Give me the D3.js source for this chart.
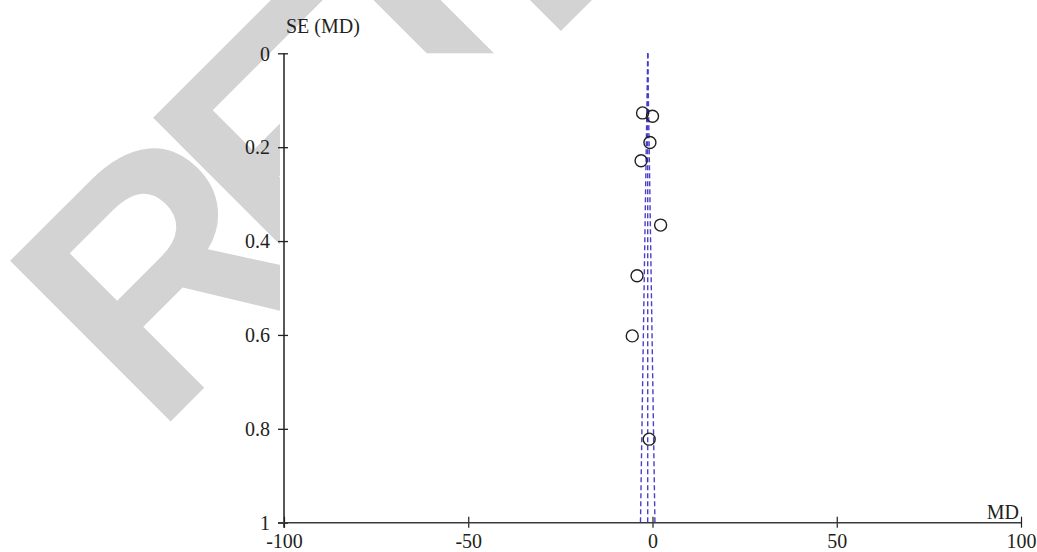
<!DOCTYPE html>
<html>
<head>
<meta charset="utf-8">
<script src="https://cdn.jsdelivr.net/npm/d3@7"></script>
<style>
  body { margin: 0; background: #fff; }
  svg { display: block; }
  .axis-text { font-family: "Liberation Serif", "DejaVu Serif", serif; font-size: 20px; fill: #231f20; }
</style>
</head>
<body>
<div id="chart"></div>
<script>
// study estimates (mean difference) and their standard errors
const mdValues = [-2.7, 0.0, -0.7, -3.1, 2.2, -4.2, -5.5, -0.9];
const seValues = [0.127, 0.134, 0.19, 0.229, 0.366, 0.474, 0.602, 0.822];
// pooled estimate used for the funnel
const pooledMD = [-1.3];
const xTicks = [-100, -50, 0, 50, 100];
const yTicks = [0, 0.2, 0.4, 0.6, 0.8, 1];

const W = 1037, H = 552;
const margin = { top: 53.3, right: 16, bottom: 29.3, left: 284 };

const svg = d3.select('#chart').append('svg')
  .attr('width', W)
  .attr('height', H);

// watermark behind the chart
svg.append('text')
  .attr('transform', 'translate(155,437) rotate(-45)')
  .attr('font-family', '"Liberation Sans", Arial, sans-serif')
  .attr('font-weight', 'bold')
  .attr('font-size', 330)
  .attr('letter-spacing', -36)
  .attr('fill', '#d3d3d3')
  .text('RETRACTED');

// plot area is opaque, hides the watermark
svg.append('rect')
  .attr('x', margin.left - 4)
  .attr('y', margin.top)
  .attr('width', W - margin.left + 4)
  .attr('height', H - margin.top)
  .attr('fill', '#fff');

const x = d3.scaleLinear().domain([-100, 100]).range([margin.left, W - margin.right]);
const y = d3.scaleLinear().domain([0, 1]).range([margin.top, H - margin.bottom]);

// funnel lines
const z = 1.96;
const funnel = [
  [[pooledMD[0], 0], [pooledMD[0] - z, 1]],
  [[pooledMD[0], 0], [pooledMD[0], 1]],
  [[pooledMD[0], 0], [pooledMD[0] + z, 1]]
];
svg.append('g')
  .selectAll('line')
  .data(funnel)
  .enter()
  .append('line')
  .attr('x1', d => x(d[0][0]))
  .attr('y1', d => y(d[0][1]))
  .attr('x2', d => x(d[1][0]))
  .attr('y2', d => y(d[1][1]))
  .attr('stroke', '#4a3fcb')
  .attr('stroke-width', 1.4)
  .attr('stroke-dasharray', '5,3');

// study points
svg.append('g')
  .selectAll('circle')
  .data(mdValues.map((d, i) => ({ md: d, se: seValues[i] })))
  .enter()
  .append('circle')
  .attr('cx', d => x(d.md))
  .attr('cy', d => y(d.se))
  .attr('r', 6)
  .attr('fill', 'none')
  .attr('stroke', '#231f20')
  .attr('stroke-width', 1.4);

// Y axis
const yAxis = svg.append('g')
  .attr('transform', `translate(${margin.left},0)`)
  .call(d3.axisLeft(y).tickValues(yTicks).tickFormat(d => d).tickSize(6).tickPadding(8));
yAxis.select('.domain').remove();
yAxis.selectAll('.tick line').attr('x2', -6).attr('x1', 4).attr('stroke', '#231f20').attr('stroke-width', 1.3);
yAxis.selectAll('.tick text').attr('class', 'axis-text').attr('dy', '0.34em');
yAxis.append('line')
  .attr('y1', y(0))
  .attr('y2', y(1) + 5)
  .attr('stroke', '#231f20')
  .attr('stroke-width', 1.5);

// X axis
const xAxis = svg.append('g')
  .attr('transform', `translate(0,${y(1)})`)
  .call(d3.axisBottom(x).tickValues(xTicks).tickFormat(d => d).tickSize(5));
xAxis.select('.domain').remove();
xAxis.selectAll('.tick line').attr('y1', -6).attr('stroke', '#231f20').attr('stroke-width', 1.2);
xAxis.selectAll('.tick text').attr('class', 'axis-text').attr('y', 25).attr('dy', 0);
xAxis.append('line')
  .attr('x1', x(-100) - 6)
  .attr('x2', x(100))
  .attr('stroke', '#3a3a3a')
  .attr('stroke-width', 1.5);

// axis titles
svg.append('text')
  .attr('class', 'axis-text')
  .attr('x', margin.left + 2)
  .attr('y', 33)
  .text('SE (MD)');

svg.append('text')
  .attr('class', 'axis-text')
  .attr('x', x(100) - 2)
  .attr('y', y(1) - 4)
  .attr('text-anchor', 'end')
  .text('MD');
</script>
</body>
</html>
